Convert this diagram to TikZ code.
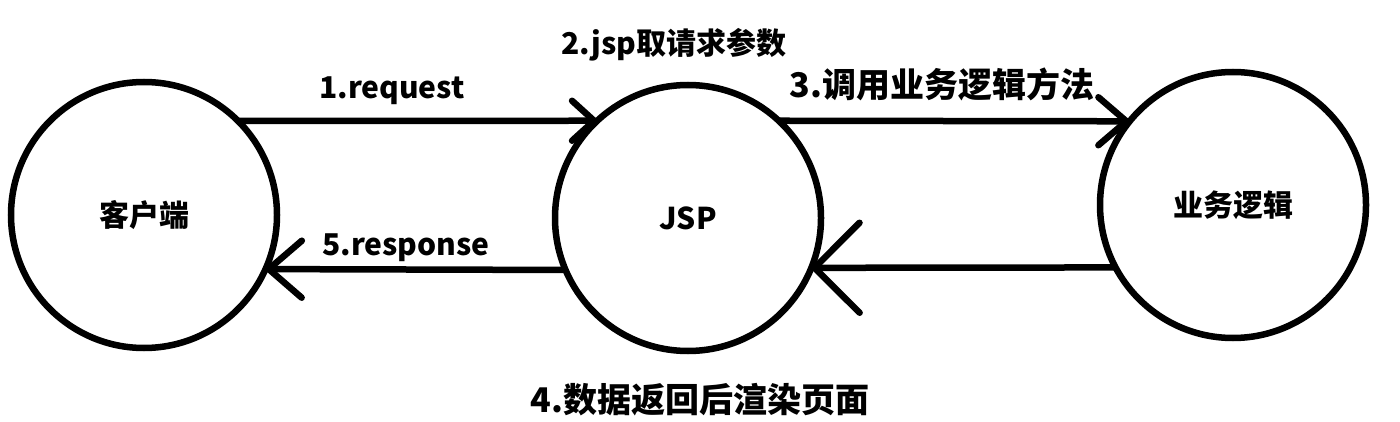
\documentclass[tikz,border=0pt]{standalone}
\usepackage{fontspec}
\setmainfont{Noto Sans CJK SC}
\usetikzlibrary{arrows.meta}

\begin{document}
\begin{tikzpicture}[x=1pt,y=-1pt,line width=6.5pt,
    party/.style={draw,circle,minimum size=266pt,inner sep=0pt,outer sep=0pt,
      font=\fontsize{30}{36}\selectfont\bfseries},
    lbl/.style={font=\fontsize{30}{36}\selectfont\bfseries,anchor=base},
    biglbl/.style={font=\fontsize{34}{40}\selectfont\bfseries,anchor=base},
    flow/.style 2 args={-{Straight Barb[length=#1,width=#2,round]}}]
  \useasboundingbox (0,0) rectangle (1400,422);

  % the three parties
  \node[party] (client) at (144,215) {客户端};
  \node[party] (jsp) at (688,218) {JSP};
  \node[party] (logic) at (1233,205) {业务逻辑};

  % request and call
  \draw[flow={22pt}{40pt}] (client.45) -- (jsp.133);
  \draw[flow={28pt}{48pt}] (jsp.47) -- (logic.141);

  % data back and response
  \draw[flow={45pt}{90pt}] (logic.208) -- (jsp.-22);
  \draw[flow={33pt}{57pt}] (jsp.203) -- (client.-24);

  \node[lbl] (param) at (674,55) {2.jsp取请求参数};
  \node[lbl] (req) at (392,99) {1.request};
  \node[biglbl] (call) at (942,98) {3.调用业务逻辑方法};
  \node[lbl] (resp) at (406,255) {5.response};
  \node[biglbl] (render) at (700,412) {4.数据返回后渲染页面};
\end{tikzpicture}
\end{document}
